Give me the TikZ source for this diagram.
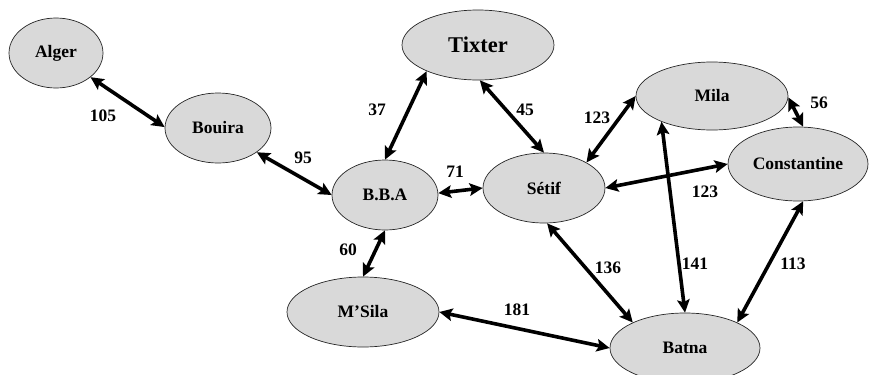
\documentclass[tikz,border=0pt]{standalone}
\usepackage{fontspec}
\setmainfont{Liberation Serif}
\usetikzlibrary{shapes.geometric,arrows.meta}
\definecolor{cityfill}{HTML}{D9D9D9}
\begin{document}
\begin{tikzpicture}[x=1pt,y=-1pt,
  city/.style={ellipse,draw=black!85,line width=0.7pt,fill=cityfill,inner sep=0pt,
    font=\fontsize{17.5}{20}\selectfont\bfseries},
  link/.style={line width=3.6pt,
    {Stealth[length=13pt,width=12.5pt,inset=2.5pt]}-{Stealth[length=13pt,width=12.5pt,inset=2.5pt]}},
  lbl/.style={font=\fontsize{17.5}{20}\selectfont\bfseries,inner sep=0pt}]
\useasboundingbox (0,0) rectangle (871,375);
\clip (0,0) rectangle (871,375);
% cities
\node[city,minimum width=94pt,minimum height=70pt] (alger) at (56,53) {Alger};
\node[city,minimum width=106pt,minimum height=70pt] (bouira) at (218,128) {Bouira};
\node[city,minimum width=152pt,minimum height=70pt,font=\fontsize{22.5}{26}\selectfont\bfseries] (tixter) at (478,45) {Tixter};
\node[city,minimum width=106pt,minimum height=70pt] (bba) at (385,195) {B.B.A};
\node[city,minimum width=122pt,minimum height=70pt] (setif) at (544,188) {Sétif};
\node[city,minimum width=152pt,minimum height=68pt] (mila) at (712,96) {Mila};
\node[city,minimum width=140pt,minimum height=74pt] (const) at (798,164) {Constantine};
\node[city,minimum width=152pt,minimum height=70pt] (msila) at (363,312) {M’Sila};
\node[city,minimum width=150pt,minimum height=70pt] (batna) at (685,348) {Batna};
% links
\draw[link] (alger.-35) -- (bouira.179);
\draw[link] (bouira.-32) -- (bba.180);
\draw[link] (bba.90) -- (tixter.-153);
\draw[link] (tixter.-87) -- (setif.90);
\draw[link] (bba.2) -- (setif.180);
\draw[link] (setif.31) -- (mila.180);
\draw[link] (mila.-1.5) -- (const.82);
\draw[link] (setif.0) -- (const.180);
\draw[link] (mila.-153) -- (batna.90);
\draw[link] (const.-82.5) -- (batna.26);
\draw[link] (setif.-85) -- (batna.154);
\draw[link] (bba.-90) -- (msila.90);
\draw[link] (msila.0) -- (batna.180);
% labels
\node[lbl] (l105) at (103,116) {105};
\node[lbl] (l95) at (303,158) {95};
\node[lbl] (l37) at (377,110) {37};
\node[lbl] (l45) at (525,110) {45};
\node[lbl] (l71) at (455,172) {71};
\node[lbl] (l123a) at (597,118) {123};
\node[lbl] (l56) at (819,103) {56};
\node[lbl] (l123b) at (705,192) {123};
\node[lbl] (l60) at (348,250) {60};
\node[lbl] (l136) at (608,268) {136};
\node[lbl] (l141) at (695,264) {141};
\node[lbl] (l113) at (793,264) {113};
\node[lbl] (l181) at (517,310) {181};
\end{tikzpicture}
\end{document}
